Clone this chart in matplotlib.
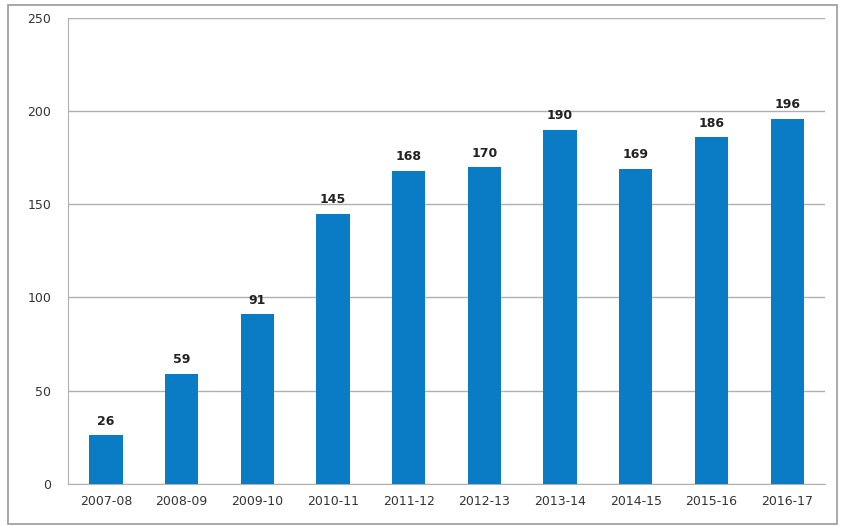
import matplotlib
matplotlib.use("Agg")
import matplotlib.pyplot as plt
from matplotlib.patches import Rectangle

years = ["2007-08", "2008-09", "2009-10", "2010-11", "2011-12",
         "2012-13", "2013-14", "2014-15", "2015-16", "2016-17"]
values = [26, 59, 91, 145, 168, 170, 190, 169, 186, 196]
yticks = [0, 50, 100, 150, 200, 250]

fig = plt.figure(figsize=(8.41, 5.27), dpi=100)
ax = fig.add_axes([0.081, 0.082, 0.900, 0.884])

x = range(len(years))
ax.bar(x, values, width=0.44, color="#0a7cc6", zorder=3)
for xi, v in zip(x, values):
    ax.text(xi, v + 4, str(v), ha="center", va="bottom", fontsize=9,
            fontweight="bold", color="#222222", zorder=4)

ax.set_xlim(-0.5, len(years) - 0.5)
ax.set_ylim(0, 250)
ax.set_yticks(yticks)
ax.set_xticks(list(x))
ax.set_xticklabels(years)
ax.tick_params(axis="both", length=0, labelsize=9, colors="#333333")
ax.tick_params(axis="y", pad=12)
ax.tick_params(axis="x", pad=8)
ax.grid(axis="y", color="#b0b0b0", linewidth=1.0, zorder=0)

for side in ("top", "right"):
    ax.spines[side].set_visible(False)
ax.spines["left"].set_color("#b0b0b0")
ax.spines["bottom"].set_color("#b0b0b0")

# outer chart border
fig.patches.append(Rectangle((0.01, 0.006), 0.985, 0.985, transform=fig.transFigure,
                             fill=False, edgecolor="#999999", linewidth=1.2))

fig.savefig("out.png", dpi=100)
plt.close(fig)
